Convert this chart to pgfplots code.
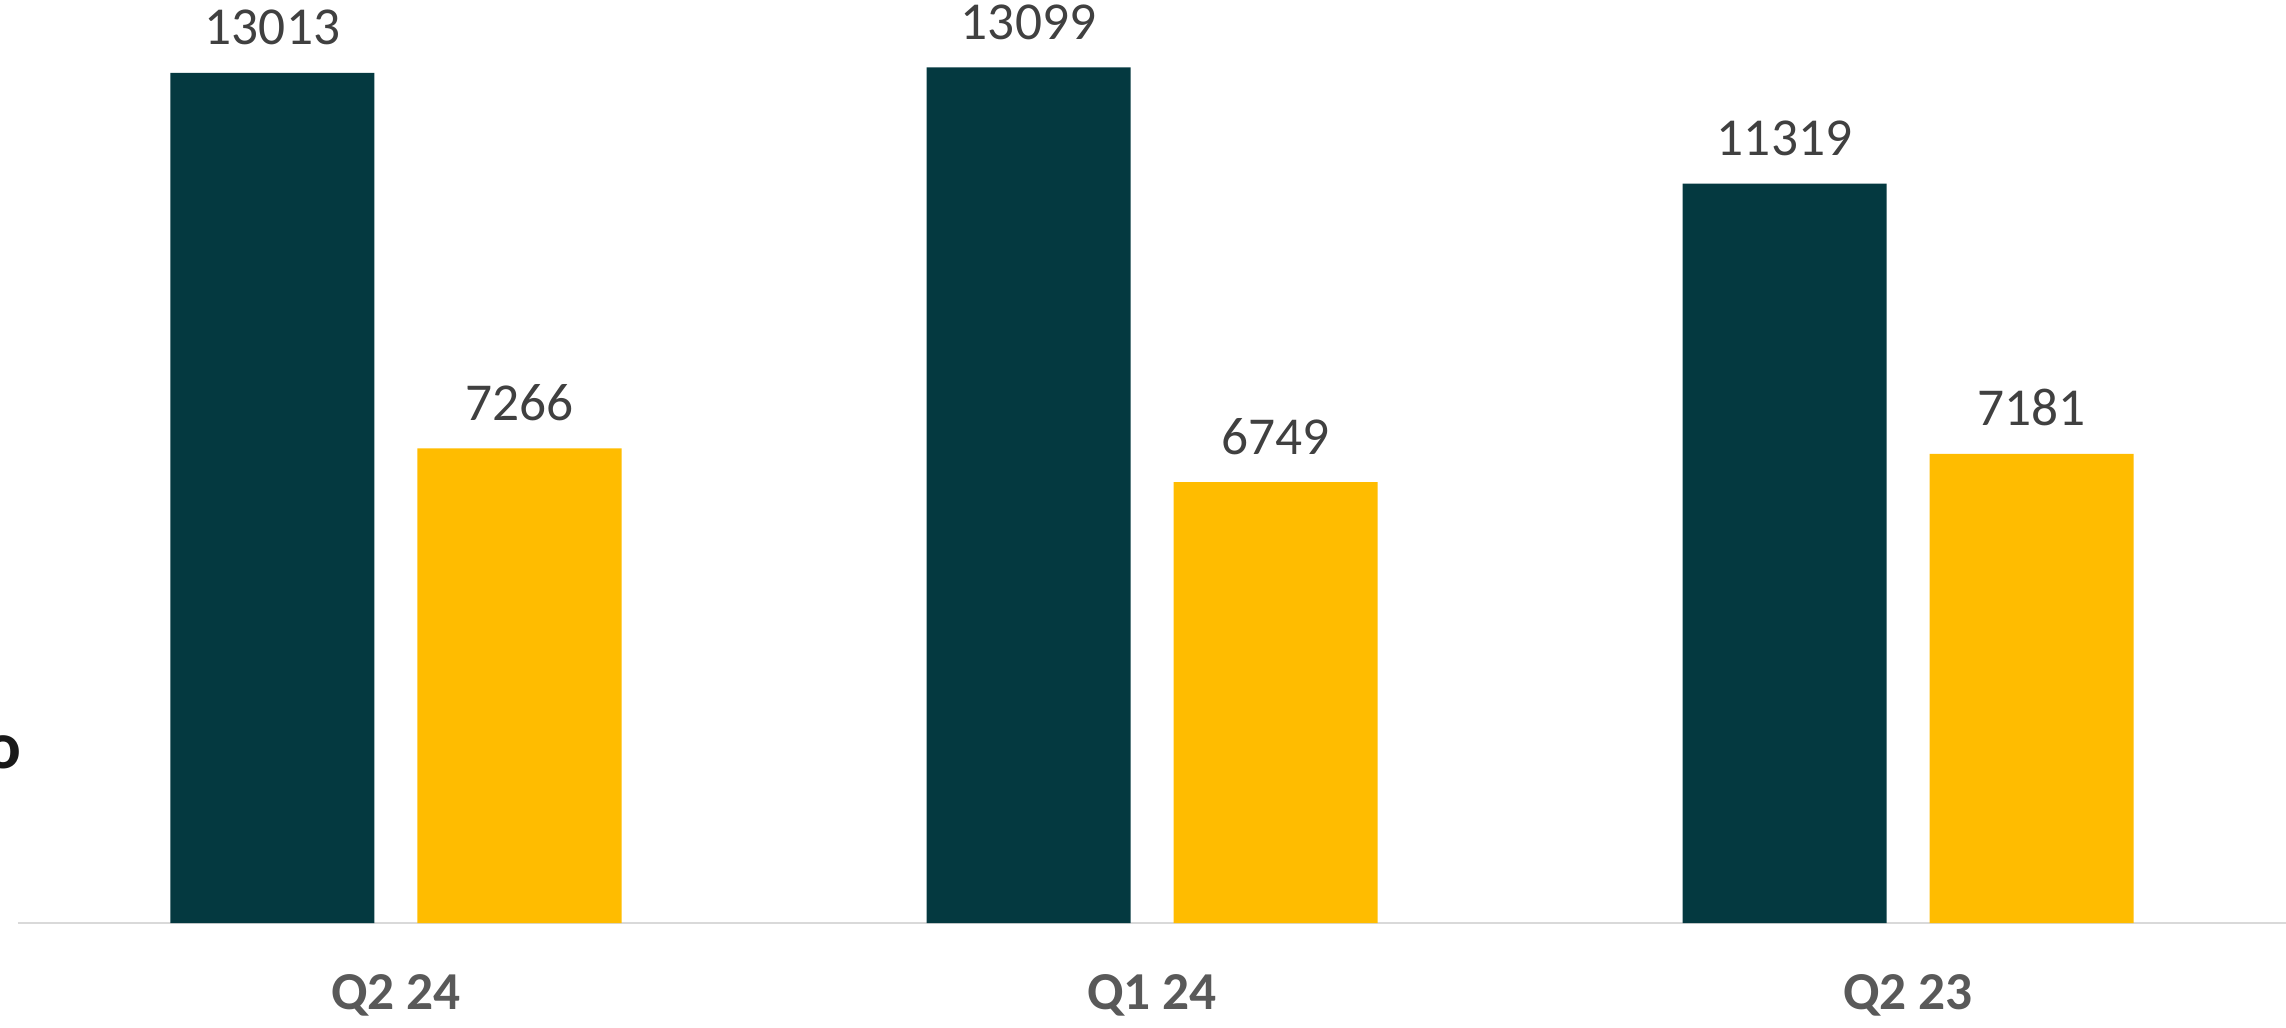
\documentclass[border=0pt]{standalone}
\usepackage{pgfplots}
\pgfplotsset{compat=1.18}
\usepackage{fontspec}
\setmainfont{Carlito}
\definecolor{darkteal}{RGB}{4,57,64}
\definecolor{gold}{RGB}{255,188,0}
\definecolor{valgray}{RGB}{64,64,64}
\definecolor{catgray}{RGB}{89,89,89}
\definecolor{axgray}{RGB}{217,217,217}
\begin{document}
\begin{tikzpicture}
\useasboundingbox (-5.4pt,-31.2pt) rectangle (680.4pt,276.9pt);
\begin{axis}[
  at={(0,0)}, anchor=south west,
  scale only axis,
  width=680.4pt, height=276.9pt,
  xmin=-0.5, xmax=2.5, ymin=0, ymax=14130,
  ybar=12.9pt, bar width=61.2pt,
  axis y line=none,
  axis x line*=bottom,
  x axis line style={draw=axgray, line width=0.8pt, -},
  xtick=data, xticklabels={Q2 24, Q1 24, Q2 23},
  major tick length=0pt,
  xticklabel style={anchor=base, yshift=-25.8pt, font=\fontsize{16}{18}\selectfont\bfseries, text=catgray},
  /pgf/number format/.cd, 1000 sep={}, assume math mode=true,
  /pgfplots/.cd,
  nodes near coords,
  every node near coord/.append style={anchor=base, yshift=8.4pt, font=\fontsize{16}{18}\selectfont, text=valgray},
  clip=false,
]
\addplot[fill=darkteal, draw=none] coordinates {(0,13013) (1,13099) (2,11319)};
\addplot[fill=gold, draw=none] coordinates {(0,7266) (1,6749) (2,7181)};
\end{axis}
\node[font=\fontsize{20}{22}\selectfont\bfseries, text=black!90] at (-4.5pt,51.3pt) {o};
\end{tikzpicture}
\end{document}
